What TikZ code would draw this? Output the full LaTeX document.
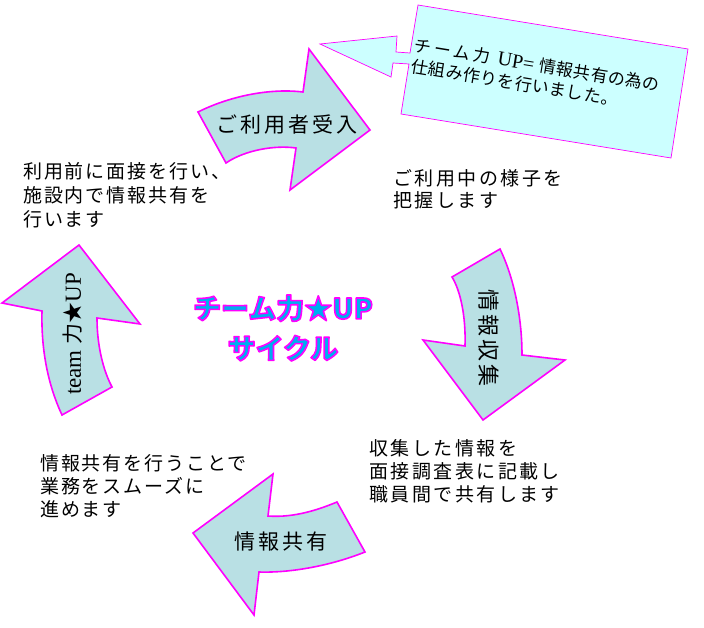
\documentclass[tikz,border=0pt]{standalone}
\usepackage{fontspec}
\setmainfont{Liberation Serif}
\newfontfamily\jp{Noto Sans CJK JP}
\newfontfamily\jpsp{Noto Sans CJK JP}[LetterSpace=10]
\newfontfamily\jpspw{Noto Sans CJK JP}[LetterSpace=13]
\newfontfamily\jplab{Noto Sans CJK JP}[LetterSpace=14]
\newfontfamily\jpcall{Noto Sans CJK JP}[LetterSpace=3]
\newfontfamily\jpcallw{Noto Sans CJK JP}[LetterSpace=17]
\newcommand\outlinetext[1]{\textcolor{cyan}{\special{pdf:literal direct 1 0 1 RG 1.6 w 1 j 2 Tr}#1\special{pdf:literal direct 0 Tr}}}
\definecolor{arrowfill}{RGB}{185,224,228}
\definecolor{calloutfill}{RGB}{204,255,255}
\definecolor{mag}{RGB}{255,0,255}
\tikzset{
  bigarrow/.style={draw=mag, line width=1.6pt, fill=arrowfill, line join=miter},
  callout/.style={draw=mag, line width=0.7pt, fill=calloutfill},
  para/.style={inner sep=0pt, anchor=north west, align=left},
  alabel/.style={inner sep=0pt, font=\fontsize{21}{24}\jplab},
}
\begin{document}
\begin{tikzpicture}[x=1pt,y=-1pt]
\useasboundingbox (0,0) rectangle (704,627);
% arrow 1 (top)
\path[bigarrow] (198,112) .. controls (230,96) and (270,88) .. (303,92) -- (309,49) -- (370,130) -- (290,190) -- (296,148) .. controls (275,145) and (245,150) .. (226,163) -- cycle;
% arrow 2 (right)
\path[bigarrow] (452,277) -- (500,249) .. controls (515,280) and (522,320) .. (522,355) -- (565,360) -- (483,420) -- (423,340) -- (465,346) .. controls (466,315) and (460,290) .. (452,277) -- cycle;
% arrow 3 (left)
\path[bigarrow] (79,245) -- (140,324) -- (97,318) .. controls (97,345) and (103,370) .. (112,387) -- (62,415) .. controls (48,385) and (41,350) .. (42,311) -- (2,303) -- cycle;
% arrow 4 (bottom)
\path[bigarrow] (193,533) -- (273,474) -- (268,516) .. controls (295,518) and (320,509) .. (337,502) -- (365,552) .. controls (330,566) and (290,573) .. (259,572) -- (254,615) -- cycle;
% callout
\path[callout] (418,5) -- (688,49) -- (671,158) -- (401,114) -- (409,64) -- (393,63) -- (391,77) -- (320,44) -- (397,36) -- (396,52) -- (410,53) -- cycle;
\node[inner sep=0pt, anchor=north west, align=left, rotate=-9.3, font=\fontsize{17}{21}\jpcall] (callt) at (416,37) {{\jpcallw チーム力}\hspace{8pt}{\rmfamily\fontsize{20}{21}\selectfont UP=}\hspace{5pt}情報共有の為の\\仕組み作りを行いました。};

% paragraphs
\node[para, font=\fontsize{19}{24}\jpsp] (t1) at (23,162) {利用前に面接を行い、\\施設内で情報共有を\\行います};
\node[para, font=\fontsize{19}{22}\jpspw] (t2) at (393,169) {ご利用中の様子を\\把握します};
\node[para, font=\fontsize{19}{23}\jpspw] (t3) at (369,439) {収集した情報を\\面接調査表に記載し\\職員間で共有します};
\node[para, font=\fontsize{19}{23}\jpsp] (t4) at (40,454) {情報共有を行うことで\\業務をスムーズに\\進めます};

% arrow labels
\node[alabel] (l1) at (287,125) {ご利用者受入};
\node[alabel, rotate=-90, font=\fontsize{22}{24}\jplab] (l2) at (489,338) {情報収集};
\node[inner sep=0pt, rotate=90, font=\fontsize{23}{24}\rmfamily] (l3) at (73,334) {team {\jp\fontsize{21}{24}\selectfont 力★}UP};
\node[alabel] (l4) at (281,542) {情報共有};

% title
\node[inner sep=0pt, align=center, font=\fontsize{28}{40}\jp\bfseries] (title) at (283,328) {\outlinetext{チーム力★UP}\\\outlinetext{サイクル}};
\end{tikzpicture}
\end{document}
